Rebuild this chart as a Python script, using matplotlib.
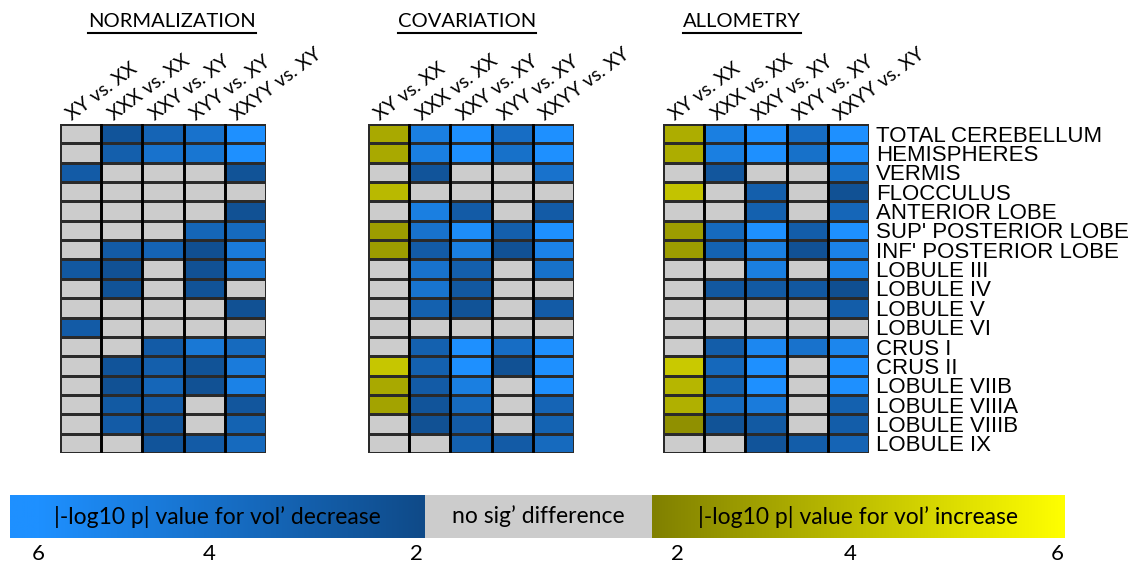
"""Cerebellar volume differences between karyotype groups, three analysis methods."""

import numpy as np
import matplotlib.pyplot as plt
from matplotlib.colors import LinearSegmentedColormap, Normalize
from matplotlib.lines import Line2D

# |-log10 p| per region and contrast; negative = volume decrease,
# positive = volume increase, 0 = no significant difference
regions = ["TOTAL CEREBELLUM", "HEMISPHERES", "VERMIS", "FLOCCULUS",
           "ANTERIOR LOBE", "SUP' POSTERIOR LOBE", "INF' POSTERIOR LOBE",
           "LOBULE III", "LOBULE IV", "LOBULE V", "LOBULE VI", "CRUS I",
           "CRUS II", "LOBULE VIIB", "LOBULE VIIIA", "LOBULE VIIIB", "LOBULE IX"]
contrasts = ["XY vs. XX", "XXX vs. XX", "XXY vs. XY", "XYY vs. XY", "XXYY vs. XY"]

normalization = [
    [0, -2.6, -3.5, -4.3, -6.0],
    [0, -3.2, -4.3, -4.5, -6.0],
    [-3.0, 0, 0, 0, -2.5],
    [0, 0, 0, 0, 0],
    [0, 0, 0, 0, -2.4],
    [0, 0, 0, -3.6, -3.8],
    [0, -3.0, -3.5, -2.3, -4.8],
    [-2.8, -2.4, 0, -2.4, -4.6],
    [0, -2.5, 0, -2.5, 0],
    [0, 0, 0, 0, -2.4],
    [-3.0, 0, 0, 0, 0],
    [0, 0, -3.0, -4.6, -3.8],
    [0, -2.6, -3.2, -2.5, -4.8],
    [0, -2.4, -3.6, -2.4, -5.2],
    [0, -2.9, -3.0, 0, -2.7],
    [0, -3.0, -2.6, 0, -3.4],
    [0, 0, -2.6, -3.0, -3.8],
]

covariation = [
    [3.3, -5.0, -6.0, -4.0, -6.0],
    [3.3, -5.0, -6.0, -4.2, -6.0],
    [0, -2.6, 0, 0, -4.3],
    [3.8, 0, 0, 0, 0],
    [0, -5.0, -3.0, 0, -3.0],
    [2.9, -4.3, -5.8, -3.2, -6.0],
    [2.9, -3.0, -5.0, -2.4, -5.2],
    [0, -4.3, -3.2, 0, -4.2],
    [0, -4.4, -2.8, 0, 0],
    [0, -3.3, -2.5, 0, -3.0],
    [0, 0, 0, 0, 0],
    [0, -3.3, -6.0, -4.0, -6.0],
    [4.2, -3.3, -6.0, -2.4, -6.0],
    [3.3, -3.0, -5.0, 0, -6.0],
    [3.1, -2.6, -3.8, 0, -3.5],
    [0, -2.4, -3.0, 0, -3.4],
    [0, 0, -3.3, -3.0, -3.8],
]

allometry = [
    [3.4, -5.0, -6.0, -4.0, -6.0],
    [3.4, -5.0, -6.0, -4.2, -6.0],
    [0, -2.7, 0, 0, -4.2],
    [4.1, 0, -3.2, 0, -2.4],
    [0, 0, -3.3, 0, -3.6],
    [2.9, -3.8, -6.0, -3.1, -6.0],
    [2.9, -3.4, -5.0, -2.4, -5.2],
    [0, 0, -5.0, 0, -5.3],
    [0, -2.8, -2.9, -2.8, -2.3],
    [0, 0, 0, 0, -3.1],
    [0, 0, 0, 0, 0],
    [0, -3.1, -5.5, -4.3, -5.4],
    [4.3, -3.7, -6.0, 0, -6.0],
    [3.7, -3.4, -6.0, 0, -6.0],
    [3.5, -3.8, -4.8, 0, -3.3],
    [2.5, -2.5, -2.9, 0, -3.1],
    [0, 0, -2.6, -3.1, -3.5],
]

panels = [("NORMALIZATION", normalization),
          ("COVARIATION", covariation),
          ("ALLOMETRY", allometry)]

scale_ticks = [6, 4, 2]
legend_labels = ["|-log10 p| value for vol\u2019 decrease",
                 "no sig\u2019 difference",
                 "|-log10 p| value for vol\u2019 increase"]

# signed scale: bright blue -> dark blue | grey | olive -> yellow
eps = 1e-4
cmap = LinearSegmentedColormap.from_list("vol", [
    (0.0, "#1E90FF"), (4 / 12, "#0F4A88"),
    (4 / 12 + eps, "#CCCCCC"), (8 / 12 - eps, "#CCCCCC"),
    (8 / 12, "#808000"), (1.0, "#FFFF00")], N=2048)
norm = Normalize(vmin=-6, vmax=6)

W, H = 1133, 562
fig = plt.figure(figsize=(W / 100, H / 100), dpi=100)

label_font = "Lato"
panel_left = [60, 368, 663]
title_offset = [28, 30, 20]
panel_w, top_px, bot_px = 206, 124, 453

for k, (title, values) in enumerate(panels):
    data = np.array(values)
    x0 = panel_left[k]
    ax = fig.add_axes([x0 / W, 1 - bot_px / H, panel_w / W, (bot_px - top_px) / H])
    ax.pcolormesh(data, cmap=cmap, norm=norm, edgecolors="#2a2a2a", linewidth=1.0)
    for xb in range(1, data.shape[1]):
        ax.axvline(xb, color="black", lw=2.0)
    ax.set_xlim(0, data.shape[1])
    ax.set_ylim(data.shape[0], 0)
    for s in ax.spines.values():
        s.set_visible(False)
    ax.set_xticks([])
    if k == 2:
        ax.yaxis.tick_right()
        ax.set_yticks(np.arange(data.shape[0]) + 0.5)
        ax.set_yticklabels(regions, family="Liberation Sans", fontsize=16)
        ax.tick_params(axis="y", length=0, pad=5)
    else:
        ax.set_yticks([])

    # rotated contrast labels above each column
    for j, name in enumerate(contrasts):
        ax.text(j + 0.3, -0.15, name, rotation=37, rotation_mode="anchor",
                ha="left", va="baseline", family=label_font, fontsize=14)

    # underlined panel title
    tx = (x0 + title_offset[k]) / W
    t = fig.text(tx, 1 - 27 / H, title, family=label_font, fontsize=14.5,
                 ha="left", va="baseline")
    fig.canvas.draw()
    bb = t.get_window_extent(fig.canvas.get_renderer())
    uy = (bb.y0 - 3) / H
    fig.add_artist(Line2D([bb.x0 / W, bb.x1 / W], [uy, uy], color="black", lw=1.5))

# legend bar
bar = fig.add_axes([10 / W, 1 - 538 / H, 1055 / W, 43 / H])
bar.axis("off")
b1, b2 = 415 / 1055, 642 / 1055
grad_dec = np.linspace(-6.3, -2.0, 512)[None, :]
grad_inc = np.linspace(2.0, 6.0, 512)[None, :]
bar.imshow(grad_dec, cmap=cmap, norm=norm, aspect="auto", extent=[0, b1, 0, 1])
bar.imshow(np.zeros((1, 2)), cmap=cmap, norm=norm, aspect="auto", extent=[b1, b2, 0, 1])
bar.imshow(grad_inc, cmap=cmap, norm=norm, aspect="auto", extent=[b2, 1, 0, 1])
bar.set_xlim(0, 1)
bar.set_ylim(0, 1)

centers = [b1 / 2, (b1 + b2) / 2, (b2 + 1) / 2]
for c, lab in zip(centers, legend_labels):
    bar.text(c, 0.5, lab, ha="center", va="center", family=label_font, fontsize=16.5)

# scale numbers under the bar
dec_pos = [28, 199, 406]
inc_pos = [667, 840, 1047]
for v, p in zip(scale_ticks, dec_pos):
    fig.text((10 + p) / W, 1 - 554 / H, str(v), ha="center", va="center",
             family=label_font, fontsize=16)
for v, p in zip(scale_ticks[::-1], inc_pos):
    fig.text((10 + p) / W, 1 - 554 / H, str(v), ha="center", va="center",
             family=label_font, fontsize=16)

fig.savefig("out.png", dpi=100)
